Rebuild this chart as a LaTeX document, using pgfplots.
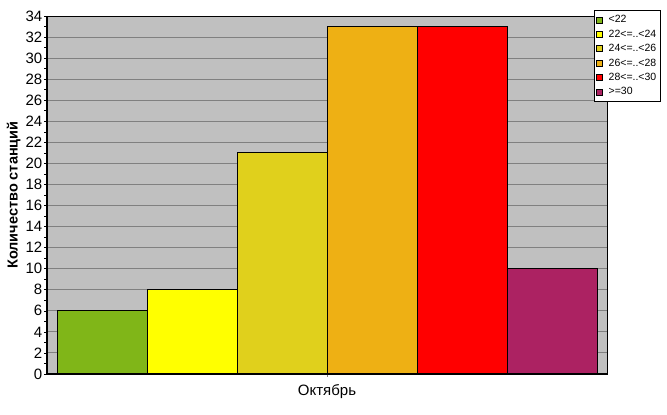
\documentclass[border=0pt]{standalone}
\usepackage{fontspec}
\setmainfont{Liberation Sans}
\usepackage{pgfplots}
\pgfplotsset{compat=1.18}
\definecolor{c1}{RGB}{128,182,24}
\definecolor{c2}{RGB}{255,255,0}
\definecolor{c3}{RGB}{224,208,28}
\definecolor{c4}{RGB}{238,176,20}
\definecolor{c5}{RGB}{255,0,0}
\definecolor{c6}{RGB}{172,34,98}
\definecolor{bg}{RGB}{192,192,192}
\definecolor{gridc}{RGB}{128,128,128}
\begin{document}
\begin{tikzpicture}
\useasboundingbox (0,0) rectangle (667pt,415pt);
\begin{axis}[
  at={(47pt,41pt)}, anchor=south west,
  scale only axis, width=560pt, height=358pt,
  xmin=0.3889, xmax=6.6111, ymin=0, ymax=34,
  ybar, bar width=1, bar shift=0pt,
  axis background/.style={fill=bg},
  axis line style={black, line width=0.8pt},
  ytick={0,2,...,34}, minor ytick={1,3,...,33},
  xtick={3.5}, xticklabels={Октябрь},
  ytick pos=left, xtick pos=bottom,
  tick align=outside, major tick length=3pt, minor tick length=3pt,
  tick style={black, line width=0.6pt},
  xtick style={gridc, line width=0.8pt},
  ymajorgrids, major grid style={gridc, line width=0.9pt},
  tick label style={font=\fontsize{15}{17}\selectfont},
  /pgf/number format/assume math mode=true,
  yticklabel style={inner sep=1.5pt},
  xticklabel style={yshift=-4pt},
  ylabel={Количество станций},
  ylabel style={font=\fontsize{14.5}{16}\selectfont\bfseries},
  legend cell align=left,
  legend image code/.code={\draw[#1,draw=black,line width=0.6pt] (0pt,-3pt) rectangle (6pt,3pt); \path[draw=none,fill=none] (0pt,0pt) -- (10pt,0pt);},
  legend style={at={(rel axis cs:0.9768,1.0168)}, anchor=north west,
    draw=black, line width=0.8pt, fill=white,
    font=\fontsize{10.5}{12}\selectfont, row sep=1.6pt,
    inner xsep=2pt, inner ysep=3pt},
  clip=false,
]
\addplot[fill=c1, draw=black, line width=0.9pt, bar shift=0pt] coordinates {(1,6)};
\addplot[fill=c2, draw=black, line width=0.9pt, bar shift=0pt] coordinates {(2,8)};
\addplot[fill=c3, draw=black, line width=0.9pt, bar shift=0pt] coordinates {(3,21)};
\addplot[fill=c4, draw=black, line width=0.9pt, bar shift=0pt] coordinates {(4,33)};
\addplot[fill=c5, draw=black, line width=0.9pt, bar shift=0pt] coordinates {(5,33)};
\addplot[fill=c6, draw=black, line width=0.9pt, bar shift=0pt] coordinates {(6,10)};
\legend{<22, 22<=..<24, 24<=..<26, 26<=..<28, 28<=..<30, >=30}
\draw[black, line width=2pt] (rel axis cs:0,1) -- (rel axis cs:0,0) -- (rel axis cs:1,0);
\end{axis}
\end{tikzpicture}
\end{document}
